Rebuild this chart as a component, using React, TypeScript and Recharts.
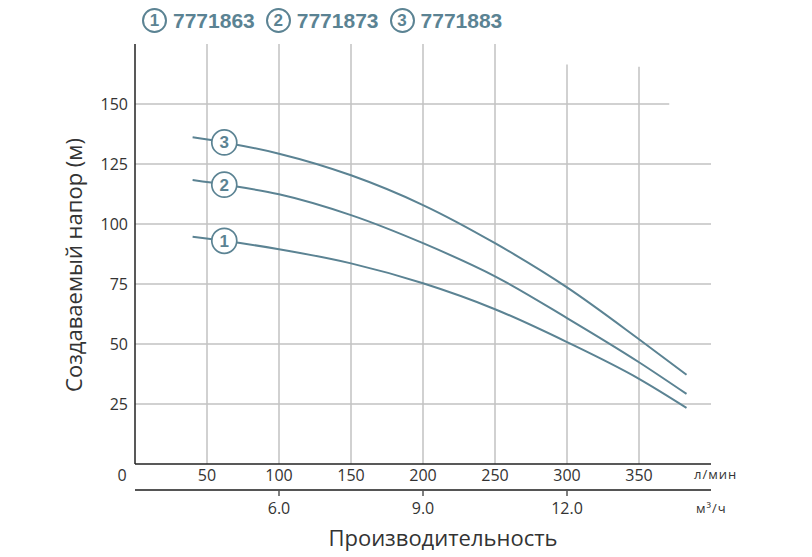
import { LineChart, Line, XAxis, YAxis, ReferenceLine } from 'recharts'

// flow, l/min
const FLOW = [40, 62, 100, 150, 200, 250, 300, 350, 383]
// head, m, one list per pump
const HEAD_1 = [94.7, 93.0, 89.5, 83.6, 75.3, 64.5, 50.8, 35.5, 23.4]
const HEAD_2 = [118.3, 116.4, 112.4, 103.7, 92, 78.2, 60.8, 42.4, 29.2]
const HEAD_3 = [136.1, 134.0, 129.3, 120.3, 107.9, 92, 73.6, 52, 37.2]
const MODELS = ['7771863', '7771873', '7771883']
const MARKER_INDEX = 1

const FLOW_TICKS = [0, 50, 100, 150, 200, 250, 300, 350, 400]
const M3H_TICKS = [100, 200, 300, 400]
const M3H_LABELS = ['6.0', '9.0', '12.0']
const HEAD_TICKS = [25, 50, 75, 100, 125, 150]

const V_GRID = [50, 100, 150, 200, 250, 300, 350]
const V_GRID_TOP = [175, 175, 175, 175, 175, 166.5, 165.5]
const H_GRID = [25, 50, 75, 100, 125, 150]
const H_GRID_END = [400, 400, 400, 400, 400, 371]

const BLUE = '#5b8393'
const GRID = '#c2c2c2'
const INK = '#333333'
const FONT = '"Open Sans", sans-serif'
const SANS = '"Liberation Sans", Arial, sans-serif'

const data = FLOW.map((q, i) => ({ q, h1: HEAD_1[i], h2: HEAD_2[i], h3: HEAD_3[i] }))

const FlowTick = (props: any) => {
  const { x, y, payload } = props
  const v = payload.value
  if (v === 400) {
    return (
      <text x={x - 17} y={y + 15} fill={INK} fontSize={13} fontFamily={FONT} letterSpacing={1} textAnchor="start">
        л/мин
      </text>
    )
  }
  return (
    <text x={v === 0 ? x - 13 : x} y={y + 17} fill={INK} fontSize={16} fontFamily={FONT} textAnchor="middle">
      {v}
    </text>
  )
}

const M3hTick = (props: any) => {
  const { x, y, payload, index } = props
  if (payload.value === 400) {
    return (
      <text x={x - 15} y={y + 23} fill={INK} fontSize={13} fontFamily={FONT} letterSpacing={1} textAnchor="start">
        м³/ч
      </text>
    )
  }
  return (
    <g>
      <line x1={x} x2={x} y1={y} y2={y + 6} stroke="#555" strokeWidth={1.5} />
      <text x={x} y={y + 24} fill={INK} fontSize={16} fontFamily={FONT} textAnchor="middle">
        {M3H_LABELS[index]}
      </text>
    </g>
  )
}

const marker = (num: number) => (props: any) => {
  const { cx, cy, index } = props
  if (index !== MARKER_INDEX) return <g key={`m${num}-${index}`} />
  return (
    <g key={`m${num}-${index}`}>
      <circle cx={cx} cy={cy} r={12.5} fill="#fff" stroke={BLUE} strokeWidth={1.7} />
      <text x={cx} y={cy + 6} fill={BLUE} fontSize={17} fontWeight="bold" fontFamily={SANS} textAnchor="middle">
        {num}
      </text>
    </g>
  )
}

export default function App() {
  return (
    <div style={{ position: 'absolute', left: 0, top: 0, width: 812, height: 557, background: '#fff' }}>
      {/* legend */}
      <div style={{ position: 'absolute', left: 142, top: 8, display: 'flex', gap: 11, zIndex: 2 }}>
        {MODELS.map((m, i) => (
          <div key={m} style={{ display: 'flex', alignItems: 'center' }}>
            <div
              style={{
                boxSizing: 'border-box',
                width: 25,
                height: 25,
                border: `2px solid ${BLUE}`,
                borderRadius: '50%',
                display: 'flex',
                alignItems: 'center',
                justifyContent: 'center',
                color: BLUE,
                fontFamily: SANS,
                fontWeight: 'bold',
                fontSize: 17,
                lineHeight: '17px',
              }}
            >
              {i + 1}
            </div>
            <span
              style={{
                marginLeft: 6,
                color: BLUE,
                fontFamily: SANS,
                fontWeight: 'bold',
                fontSize: 21,
                lineHeight: '25px',
              }}
            >
              {m}
            </span>
          </div>
        ))}
      </div>

      <LineChart width={812} height={557} data={data} margin={{ top: 44, right: 101, left: 0, bottom: 0 }}>
        <XAxis
          xAxisId="lpm"
          type="number"
          dataKey="q"
          domain={[0, 400]}
          ticks={FLOW_TICKS}
          interval={0}
          height={26}
          axisLine={{ stroke: '#222', strokeWidth: 1.5 }}
          tickLine={false}
          tickSize={0}
          tickMargin={0}
          tick={<FlowTick />}
        />
        <XAxis
          xAxisId="m3h"
          type="number"
          dataKey="q"
          domain={[0, 400]}
          ticks={M3H_TICKS}
          interval={0}
          height={67}
          axisLine={{ stroke: '#555', strokeWidth: 2 }}
          tickLine={false}
          tickSize={0}
          tickMargin={0}
          tick={<M3hTick />}
          label={{
            value: 'Производительность',
            position: 'insideBottom',
            offset: 11,
            dx: 20,
            fill: INK,
            fontSize: 22,
            fontFamily: FONT,
          }}
        />
        <YAxis
          type="number"
          domain={[0, 175]}
          ticks={HEAD_TICKS}
          interval={0}
          width={135}
          axisLine={{ stroke: '#222', strokeWidth: 1.5 }}
          tickLine={false}
          tickSize={0}
          tickMargin={7}
          tick={{ fill: INK, fontSize: 16, fontFamily: FONT }}
          label={{
            value: 'Создаваемый напор (м)',
            content: (p: any) => {
              const vb = p.viewBox
              const cx = vb.x + 73
              const cy = vb.y + vb.height / 2 + 11
              return (
                <text
                  x={cx}
                  y={cy}
                  transform={`rotate(-90 ${cx} ${cy})`}
                  textAnchor="middle"
                  dominantBaseline="central"
                  fill={INK}
                  fontSize={22}
                  fontFamily={FONT}
                >
                  Создаваемый напор (м)
                </text>
              )
            },
          }}
        />

        {V_GRID.map((q, i) => (
          <ReferenceLine
            key={`v${q}`}
            xAxisId="lpm"
            segment={[{ x: q, y: 0 }, { x: q, y: V_GRID_TOP[i] }]}
            stroke={GRID}
            strokeWidth={1.5}
            ifOverflow="visible"
          />
        ))}
        {H_GRID.map((h, i) => (
          <ReferenceLine
            key={`h${h}`}
            xAxisId="lpm"
            segment={[{ x: 0, y: h }, { x: H_GRID_END[i], y: h }]}
            stroke={GRID}
            strokeWidth={1.5}
            ifOverflow="visible"
          />
        ))}

        <Line xAxisId="lpm" type="monotone" dataKey="h1" stroke={BLUE} strokeWidth={2} dot={marker(1)} activeDot={false} isAnimationActive={false} />
        <Line xAxisId="lpm" type="monotone" dataKey="h2" stroke={BLUE} strokeWidth={2} dot={marker(2)} activeDot={false} isAnimationActive={false} />
        <Line xAxisId="lpm" type="monotone" dataKey="h3" stroke={BLUE} strokeWidth={2} dot={marker(3)} activeDot={false} isAnimationActive={false} />
      </LineChart>
    </div>
  )
}
